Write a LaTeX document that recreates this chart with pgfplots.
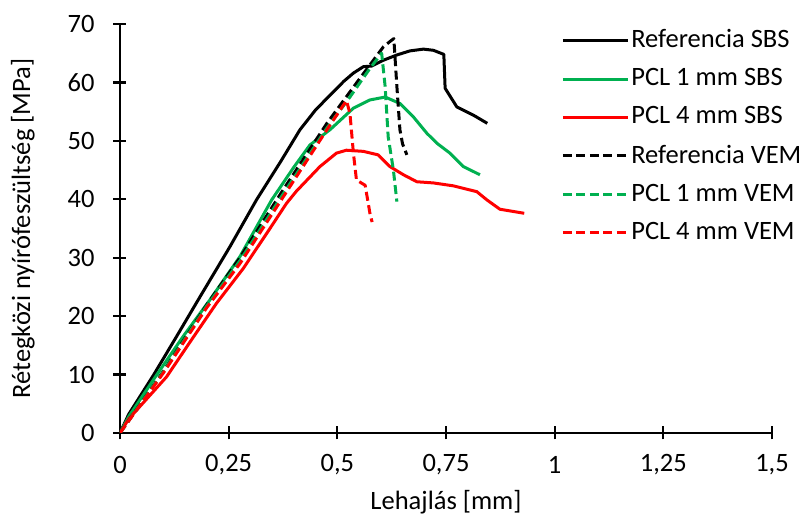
\documentclass[border=0pt]{standalone}
\usepackage{fontspec}
\setmainfont{Carlito}
\usepackage{pgfplots}
\pgfplotsset{compat=1.18}

\definecolor{exgreen}{RGB}{0,176,80}
\definecolor{exred}{RGB}{255,0,0}

\begin{document}
\fontsize{26.5}{31}\selectfont
\begin{tikzpicture}
\begin{axis}[
  scale only axis, width=652pt, height=409pt,
  at={(0,0)}, anchor=south west,
  xmin=0, xmax=1.5, ymin=0, ymax=70,
  axis lines=left, axis line style={line width=2.6pt, -},
  xtick={0,0.25,0.5,0.75,1,1.25,1.5},
  xticklabels={0,{0,25},{0,5},{0,75},1,{1,25},{1,5}},
  ytick={0,10,...,70},
  /pgf/number format/assume math mode=true,
  tick align=center, major tick length=13pt,
  tick style={line width=2.2pt, black},
  xticklabel style={anchor=center, at={(xticklabel cs:0)}, yshift=-25pt},
  yticklabel style={anchor=east, xshift=-10pt},
  xlabel={Lehajlás [mm]}, ylabel={Rétegközi nyírófeszültség [MPa]},
  xlabel style={at={(axis description cs:0.5,0)}, anchor=center, yshift=-69pt},
  ylabel style={at={(axis description cs:-0.149,0.5)}, anchor=center},
  every axis plot/.append style={line width=3pt, line join=round},
  legend cell align=left,
  legend style={draw=none, fill=white, at={(0.675,0.995)}, anchor=north west,
    row sep=13pt, inner sep=1pt, font=\fontsize{26.5}{31}\selectfont},
  legend image code/.code={\draw[#1] (0pt,0pt) -- (65pt,0pt);},
]
\addplot[black] coordinates {(0,0) (0.02,3.2) (0.077,9.9) (0.13,16.5) (0.18,22.8) (0.253,31.9) (0.314,39.9) (0.37,46.5) (0.414,51.9) (0.45,55.3) (0.491,58.4) (0.515,60.2) (0.537,61.6) (0.56,62.7) (0.579,62.8) (0.606,63.8) (0.637,64.7) (0.667,65.4) (0.698,65.7) (0.721,65.5) (0.745,64.8) (0.748,59.0) (0.775,55.8) (0.813,54.4) (0.845,53.0)};
\addlegendentry{Referencia SBS}
\addplot[exgreen] coordinates {(0,0) (0.02,2.8) (0.084,9.9) (0.145,16.5) (0.207,22.8) (0.276,30.2) (0.349,39.9) (0.40,45.5) (0.437,49.3) (0.483,51.9) (0.537,55.6) (0.575,57.0) (0.61,57.5) (0.644,56.4) (0.675,54.1) (0.706,51.3) (0.729,49.6) (0.759,47.9) (0.79,45.6) (0.828,44.2)};
\addlegendentry{PCL 1 mm SBS}
\addplot[exred] coordinates {(0,0) (0.02,2.4) (0.107,9.6) (0.165,16) (0.222,22.2) (0.284,28.2) (0.345,35) (0.383,39.3) (0.406,41.4) (0.46,45.6) (0.498,47.9) (0.521,48.4) (0.56,48.2) (0.594,47.6) (0.621,45.6) (0.652,44.2) (0.683,43.0) (0.721,42.8) (0.767,42.3) (0.821,41.3) (0.844,39.9) (0.874,38.3) (0.93,37.6)};
\addlegendentry{PCL 4 mm SBS}
\addplot[black, dash pattern=on 9pt off 4.5pt] coordinates {(0,0) (0.1,10.6) (0.2,22) (0.276,30) (0.37,41) (0.476,53) (0.55,60.5) (0.606,66.1) (0.621,67.0) (0.630,67.5) (0.637,59.3) (0.644,51.9) (0.65,49.5) (0.66,47.6)};
\addlegendentry{Referencia VEM}
\addplot[exgreen, dash pattern=on 9pt off 4.5pt] coordinates {(0,0) (0.1,10.5) (0.2,21.8) (0.276,29.5) (0.37,40.3) (0.476,52.2) (0.529,57.5) (0.575,62.4) (0.602,65.0) (0.61,59.3) (0.617,50.7) (0.629,45.0) (0.637,39.6)};
\addlegendentry{PCL 1 mm VEM}
\addplot[exred, dash pattern=on 9pt off 4.5pt] coordinates {(0,0) (0.1,10.3) (0.2,21.5) (0.276,29.0) (0.372,40) (0.476,51.9) (0.521,56.9) (0.529,54.7) (0.537,47.9) (0.544,43.3) (0.564,42.4) (0.575,37.6) (0.58,36.1)};
\addlegendentry{PCL 4 mm VEM}
\end{axis}
\pgfresetboundingbox
\path (-120pt,-86pt) rectangle (687pt,433pt);
\end{tikzpicture}
\end{document}
